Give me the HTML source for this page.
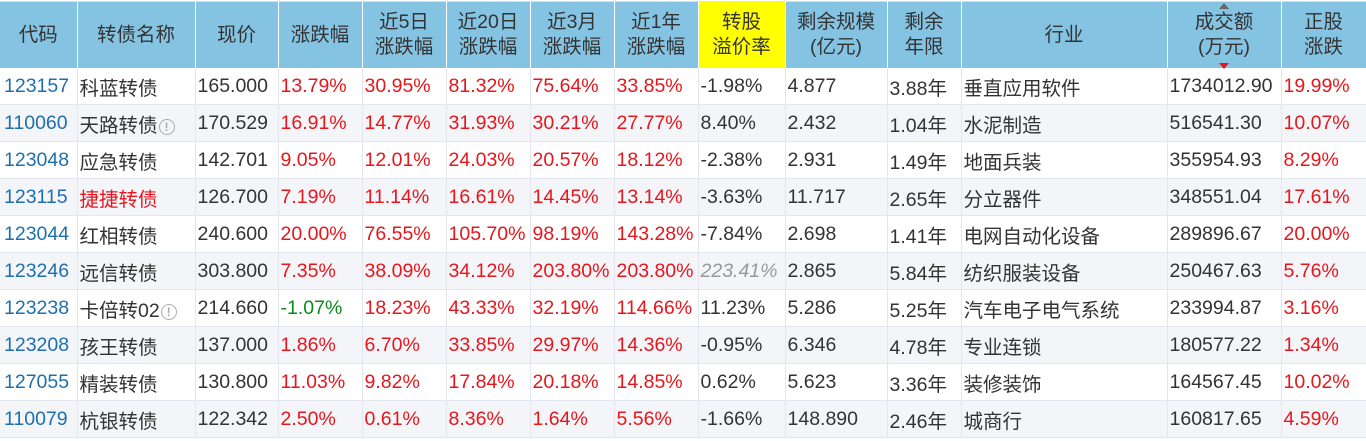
<!DOCTYPE html>
<html><head><meta charset="utf-8"><style>
body{margin:0;width:1366px;height:441px;overflow:hidden;background:#fff;font-family:"Liberation Sans","Noto Sans CJK SC",sans-serif;}
table{position:absolute;left:0;top:1px;border-collapse:collapse;table-layout:fixed;width:1366px;border-top:1px solid #ddd}
th{background:#85c3e3;color:#333;font-weight:normal;font-size:19.5px;line-height:25px;height:66px;border-right:1px solid #fff;padding:0;text-align:center}
th.y{background:#ffff00}
td{height:36px;border-right:1px solid #e3e6ee;border-bottom:1px solid #e3e6ee;font-size:19.5px;color:#333;padding:0 0 0 2px;white-space:nowrap;overflow:hidden}
tr:nth-child(odd) td{background:#f4f5f9}
tr:nth-child(even) td{background:#fff}
td.c{color:#1f6fae;padding-left:4px}
.r{color:#e5161c}
.g{color:#0c8a1c}
.it{color:#999;font-style:italic}
.i{display:inline-block;width:14px;height:14px;border:1.5px solid #aaa;border-radius:50%;color:#aaa;font-size:12px;line-height:14px;text-align:center;vertical-align:1px;font-weight:bold;margin-left:1px}
</style></head><body>
<table>
<colgroup><col style="width:77px"><col style="width:118px"><col style="width:83px"><col style="width:84px"><col style="width:84px"><col style="width:84px"><col style="width:84px"><col style="width:84px"><col style="width:87px"><col style="width:102px"><col style="width:74px"><col style="width:206px"><col style="width:114px"><col style="width:85px"></colgroup>
<tr><th>代码</th><th>转债名称</th><th>现价</th><th>涨跌幅</th><th>近5日<br>涨跌幅</th><th>近20日<br>涨跌幅</th><th>近3月<br>涨跌幅</th><th>近1年<br>涨跌幅</th><th class="y">转股<br>溢价率</th><th>剩余规模<br>(亿元)</th><th>剩余<br>年限</th><th>行业</th><th style="position:relative">成交额<br>(万元)<span style="position:absolute;left:50%;top:1px;margin-left:-5px;border:5px solid transparent;border-bottom:6px solid #666;border-top:0"></span><span style="position:absolute;left:50%;bottom:-1px;margin-left:-5px;border:5px solid transparent;border-top:6px solid #e5161c;border-bottom:0"></span></th><th>正股<br>涨跌</th></tr>
<tr><td class="c">123157</td><td>科蓝转债</td><td>165.000</td><td class="r">13.79%</td><td class="r">30.95%</td><td class="r">81.32%</td><td class="r">75.64%</td><td class="r">33.85%</td><td>-1.98%</td><td>4.877</td><td>3.88年</td><td>垂直应用软件</td><td>1734012.90</td><td class="r">19.99%</td></tr>
<tr><td class="c">110060</td><td>天路转债<span class="i">!</span></td><td>170.529</td><td class="r">16.91%</td><td class="r">14.77%</td><td class="r">31.93%</td><td class="r">30.21%</td><td class="r">27.77%</td><td>8.40%</td><td>2.432</td><td>1.04年</td><td>水泥制造</td><td>516541.30</td><td class="r">10.07%</td></tr>
<tr><td class="c">123048</td><td>应急转债</td><td>142.701</td><td class="r">9.05%</td><td class="r">12.01%</td><td class="r">24.03%</td><td class="r">20.57%</td><td class="r">18.12%</td><td>-2.38%</td><td>2.931</td><td>1.49年</td><td>地面兵装</td><td>355954.93</td><td class="r">8.29%</td></tr>
<tr><td class="c">123115</td><td class="r">捷捷转债</td><td>126.700</td><td class="r">7.19%</td><td class="r">11.14%</td><td class="r">16.61%</td><td class="r">14.45%</td><td class="r">13.14%</td><td>-3.63%</td><td>11.717</td><td>2.65年</td><td>分立器件</td><td>348551.04</td><td class="r">17.61%</td></tr>
<tr><td class="c">123044</td><td>红相转债</td><td>240.600</td><td class="r">20.00%</td><td class="r">76.55%</td><td class="r">105.70%</td><td class="r">98.19%</td><td class="r">143.28%</td><td>-7.84%</td><td>2.698</td><td>1.41年</td><td>电网自动化设备</td><td>289896.67</td><td class="r">20.00%</td></tr>
<tr><td class="c">123246</td><td>远信转债</td><td>303.800</td><td class="r">7.35%</td><td class="r">38.09%</td><td class="r">34.12%</td><td class="r">203.80%</td><td class="r">203.80%</td><td class="it">223.41%</td><td>2.865</td><td>5.84年</td><td>纺织服装设备</td><td>250467.63</td><td class="r">5.76%</td></tr>
<tr><td class="c">123238</td><td>卡倍转02<span class="i">!</span></td><td>214.660</td><td class="g">-1.07%</td><td class="r">18.23%</td><td class="r">43.33%</td><td class="r">32.19%</td><td class="r">114.66%</td><td>11.23%</td><td>5.286</td><td>5.25年</td><td>汽车电子电气系统</td><td>233994.87</td><td class="r">3.16%</td></tr>
<tr><td class="c">123208</td><td>孩王转债</td><td>137.000</td><td class="r">1.86%</td><td class="r">6.70%</td><td class="r">33.85%</td><td class="r">29.97%</td><td class="r">14.36%</td><td>-0.95%</td><td>6.346</td><td>4.78年</td><td>专业连锁</td><td>180577.22</td><td class="r">1.34%</td></tr>
<tr><td class="c">127055</td><td>精装转债</td><td>130.800</td><td class="r">11.03%</td><td class="r">9.82%</td><td class="r">17.84%</td><td class="r">20.18%</td><td class="r">14.85%</td><td>0.62%</td><td>5.623</td><td>3.36年</td><td>装修装饰</td><td>164567.45</td><td class="r">10.02%</td></tr>
<tr><td class="c">110079</td><td>杭银转债</td><td>122.342</td><td class="r">2.50%</td><td class="r">0.61%</td><td class="r">8.36%</td><td class="r">1.64%</td><td class="r">5.56%</td><td>-1.66%</td><td>148.890</td><td>2.46年</td><td>城商行</td><td>160817.65</td><td class="r">4.59%</td></tr>
</table>
</body></html>
